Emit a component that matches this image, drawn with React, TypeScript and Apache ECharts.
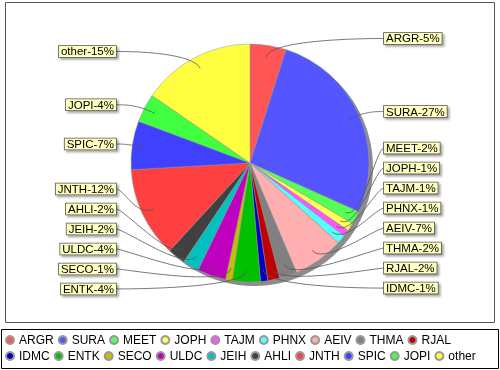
import React, { useEffect, useRef } from 'react';
import * as echarts from 'echarts';

// ---- data ----
const names = ['ARGR', 'SURA', 'MEET', 'JOPH', 'TAJM', 'PHNX', 'AEIV', 'THMA', 'RJAL', 'IDMC', 'ENTK', 'SECO', 'ULDC', 'JEIH', 'AHLI', 'JNTH', 'SPIC', 'JOPI', 'other'];
const values = [4.9, 26.8, 1.8, 1.1, 0.9, 1.2, 6.9, 2.4, 1.6, 1.0, 3.8, 0.9, 3.9, 2.2, 2.4, 12.3, 6.6, 3.9, 15.4];

// ---- styles ----
const colors = ['#ff5555', '#5555ff', '#55ff55', '#ffff55', '#ff55ff', '#55ffff', '#ffafaf', '#808080', '#c00000', '#0000c0', '#00c000', '#c0c000', '#c000c0', '#00c0c0', '#404040', '#ff4040', '#4040ff', '#40ff40', '#ffff40'];
const FONT = '"Liberation Sans", Arial, Helvetica, sans-serif';

// ---- layout ----
const CX = 250;
const CY = 163;
const R = 119;
const LABEL_R = 126;
const LABEL_GAP = 20;
const LABEL_TOP = 20;
const LABEL_BOTTOM = 290;
const LABEL_DX = 134;
const ANCHOR_DX = 126;
const LINK_PCT = 0.9;
const ELBOW_PCT = 1.06;

const total = values.reduce((a, b) => a + b, 0);
const mids: number[] = [];
{
  let acc = 0;
  values.forEach((v) => {
    mids.push(((acc + v / 2) / total) * Math.PI * 2);
    acc += v;
  });
}

const labelY: number[] = new Array(values.length).fill(0);
[true, false].forEach((rightSide) => {
  const idx = mids
    .map((m, i) => i)
    .filter((i) => (Math.sin(mids[i]) >= 0) === rightSide);
  const items = idx
    .map((i) => ({ i, y: CY - LABEL_R * Math.cos(mids[i]) }))
    .sort((a, b) => a.y - b.y);
  const n = items.length;
  if (!n) return;
  items[n - 1].y = Math.min(items[n - 1].y, LABEL_BOTTOM);
  for (let k = n - 2; k >= 0; k--) items[k].y = Math.min(items[k].y, items[k + 1].y - LABEL_GAP);
  items[0].y = Math.max(items[0].y, LABEL_TOP);
  for (let k = 1; k < n; k++) items[k].y = Math.max(items[k].y, items[k - 1].y + LABEL_GAP);
  items.forEach((it) => (labelY[it.i] = it.y));
});

function bezier(p0: number[], p1: number[], p2: number[], p3: number[], steps: number) {
  const pts: number[][] = [];
  for (let k = 0; k <= steps; k++) {
    const t = k / steps;
    const u = 1 - t;
    const a = u * u * u, b = 3 * u * u * t, c = 3 * u * t * t, d = t * t * t;
    pts.push([a * p0[0] + b * p1[0] + c * p2[0] + d * p3[0], a * p0[1] + b * p1[1] + c * p2[1] + d * p3[1]]);
  }
  return pts;
}

function labelLayout(params: any) {
  const i = params.dataIndex;
  const a = mids[i];
  const s = Math.sin(a);
  const c = -Math.cos(a);
  const right = s >= 0;
  const y = labelY[i];
  const tx = right ? CX + LABEL_DX : CX - LABEL_DX;
  const ax = right ? CX + ANCHOR_DX : CX - ANCHOR_DX;
  const p0 = [CX + LINK_PCT * R * s, CY + LINK_PCT * R * c];
  const p1 = [CX + ELBOW_PCT * R * s, CY + ELBOW_PCT * R * c];
  const p2 = [ax, y];
  const p3 = [tx, y];
  return {
    x: tx,
    y,
    align: right ? 'left' : 'right',
    verticalAlign: 'middle',
    labelLinePoints: bezier(p0, p1, p2, p3, 30),
  };
}

export default function App() {
  const ref = useRef<HTMLDivElement>(null);
  useEffect(() => {
    if (!ref.current) return;
    const chart = echarts.init(ref.current, undefined, { renderer: 'svg' });
    const pieData = names.map((n, i) => ({ name: n, value: values[i], itemStyle: { color: colors[i] } }));
    chart.setOption({
      animation: false,
      color: colors,
      graphic: [
        {
          type: 'rect',
          z: -10,
          shape: { x: 5.5, y: 2.5, width: 489, height: 320 },
          style: { fill: '#fff', stroke: '#555', lineWidth: 1 },
          silent: true,
        },
        {
          type: 'rect',
          z: -10,
          shape: { x: 1.5, y: 329.5, width: 497, height: 39 },
          style: { fill: '#fff', stroke: '#000', lineWidth: 1 },
          silent: true,
        },
      ],
      legend: {
        data: names,
        left: 5,
        top: 334,
        width: 490,
        padding: 0,
        icon: 'circle',
        itemWidth: 8,
        itemHeight: 8,
        itemGap: 4,
        selectedMode: false,
        textStyle: { fontSize: 12, fontFamily: FONT, color: '#000' },
      },
      series: [
        {
          type: 'pie',
          name: 'shadow',
          z: 1,
          silent: true,
          center: [CX + 4, CY + 4],
          radius: R,
          startAngle: 90,
          label: { show: false },
          labelLine: { show: false },
          emphasis: { disabled: true },
          data: [{ name: '__shadow', value: 1, itemStyle: { color: '#8c8c8c' } }],
        },
        {
          type: 'pie',
          name: 'main',
          z: 2,
          center: [CX, CY],
          radius: R,
          startAngle: 90,
          clockwise: true,
          avoidLabelOverlap: false,
          label: { show: false },
          labelLine: { show: false },
          emphasis: { disabled: true },
          itemStyle: { borderColor: '#999', borderWidth: 0.5 },
          data: pieData,
        },
        {
          type: 'pie',
          name: 'labels',
          z: 3,
          silent: true,
          center: [CX, CY],
          radius: R,
          startAngle: 90,
          clockwise: true,
          avoidLabelOverlap: false,
          emphasis: { disabled: true },
          itemStyle: { color: 'rgba(0,0,0,0)', borderWidth: 0 },
          label: {
            show: true,
            position: 'outside',
            formatter: (p: any) => `${p.name}-${Math.round(p.percent)}%`,
            fontFamily: FONT,
            fontSize: 11.5,
            lineHeight: 11,
            color: '#000',
            backgroundColor: '#ffffc0',
            borderColor: '#555',
            borderWidth: 0.8,
            padding: [0, 2],
            shadowColor: 'rgba(0,0,0,0.35)',
            shadowOffsetX: 2,
            shadowOffsetY: 2,
            shadowBlur: 2,
          },
          labelLine: {
            show: true,
            smooth: false,
            lineStyle: { color: '#555', width: 0.8, opacity: 1 },
          },
          labelLayout,
          data: names.map((n, i) => ({ name: n, value: values[i] })),
        },
      ],
    });
    return () => chart.dispose();
  }, []);
  return <div ref={ref} style={{ position: 'fixed', left: 0, top: 0, width: 500, height: 370 }} />;
}
